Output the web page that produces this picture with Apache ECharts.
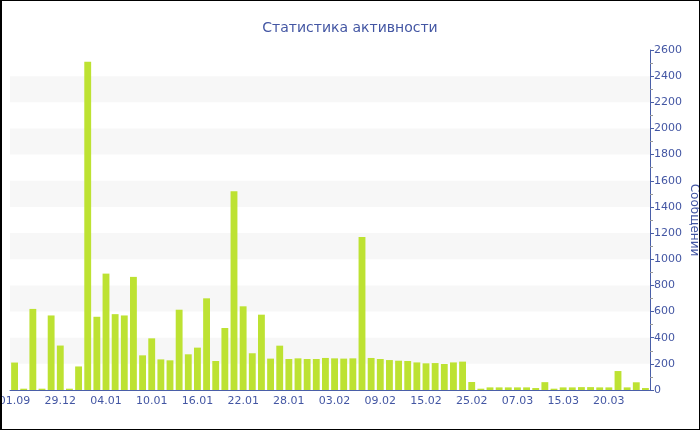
<!DOCTYPE html>
<html>
<head>
<meta charset="utf-8">
<script src="https://cdn.jsdelivr.net/npm/echarts@6/dist/echarts.min.js"></script>
<style>
html,body{margin:0;padding:0;background:#fff;}
#wrap{position:relative;width:700px;height:430px;}
#chart{position:absolute;left:0;top:0;width:700px;height:430px;}
#frame{position:absolute;left:0;top:0;width:700px;height:430px;box-sizing:border-box;border-top:1px solid #000;border-left:2px solid #000;border-right:1px solid #000;border-bottom:1px solid #000;pointer-events:none;}
</style>
</head>
<body>
<div id="wrap"><div id="chart"></div><div id="frame"></div></div>
<script>
const titleText = 'Статистика активности';
const yAxisName = 'Сообщений';
const categories = [
  '01.09','14.11','02.12','19.12','26.12','29.12','30.12','31.12','01.01','03.01',
  '04.01','05.01','06.01','07.01','08.01','10.01','11.01','12.01','13.01','14.01',
  '16.01','17.01','18.01','19.01','20.01','22.01','23.01','24.01','25.01','26.01',
  '28.01','29.01','30.01','31.01','01.02','03.02','04.02','05.02','06.02','07.02',
  '09.02','10.02','11.02','12.02','13.02','15.02','17.02','19.02','21.02','23.02',
  '25.02','27.02','01.03','03.03','05.03','07.03','09.03','11.03','12.03','14.03',
  '15.03','16.03','17.03','18.03','19.03','20.03','21.03','22.03','23.03','24.03'
];
const messages = [
  210, 10, 620, 10, 570, 340, 10, 180, 2510, 560,
  890, 580, 570, 865, 265, 395, 234, 227, 614, 273,
  324, 701, 222, 474, 1520, 640, 281, 576, 240, 339,
  237, 242, 237, 237, 245, 242, 240, 242, 1170, 245,
  237, 229, 224, 222, 211, 204, 206, 199, 211, 217,
  61, 10, 20, 20, 20, 20, 20, 15, 60, 10,
  20, 20, 22, 22, 20, 20, 145, 20, 59, 15
];
const yTicks = { min: 0, max: 2600, interval: 200 };

const blue = '#4356a3';
const font = 'DejaVu Sans';
const chart = echarts.init(document.getElementById('chart'));
chart.setOption({
  animation: false,
  title: {
    text: titleText,
    left: 'center',
    top: 16,
    textStyle: { color: blue, fontSize: 14, fontWeight: 'normal', fontFamily: font }
  },
  grid: { left: 10, right: 50, top: 50, bottom: 40, containLabel: false, outerBoundsMode: 'none' },
  xAxis: {
    type: 'category',
    data: categories,
    boundaryGap: true,
    axisLine: { lineStyle: { color: '#4a5fa8', width: 1 } },
    axisTick: { alignWithLabel: true, interval: 4, length: 4, lineStyle: { color: '#999' } },
    axisLabel: { interval: 4, color: blue, fontSize: 11, fontFamily: font, margin: 6 },
    splitLine: { show: false }
  },
  yAxis: {
    type: 'value',
    position: 'right',
    min: yTicks.min,
    max: yTicks.max,
    interval: yTicks.interval,
    name: yAxisName,
    nameLocation: 'middle',
    nameRotate: -90,
    nameGap: 38,
    nameMoveOverlap: false,
    nameTextStyle: { color: blue, fontSize: 12, fontFamily: font },
    axisLine: { show: true, lineStyle: { color: '#4a5fa8', width: 1 } },
    axisTick: { show: true, length: 4, lineStyle: { color: '#4a5fa8' } },
    minorTick: { show: true, splitNumber: 2, length: 3, lineStyle: { color: '#999' } },
    axisLabel: { color: blue, fontSize: 11, fontFamily: font, margin: 4, formatter: v => String(v) },
    splitLine: { show: false },
    splitArea: { show: true, areaStyle: { color: ['rgba(255,255,255,0)', '#f7f7f7'] } }
  },
  series: [{
    type: 'bar',
    data: messages,
    barCategoryGap: '25%',
    itemStyle: { color: '#bde232' }
  }]
});
</script>
</body>
</html>
